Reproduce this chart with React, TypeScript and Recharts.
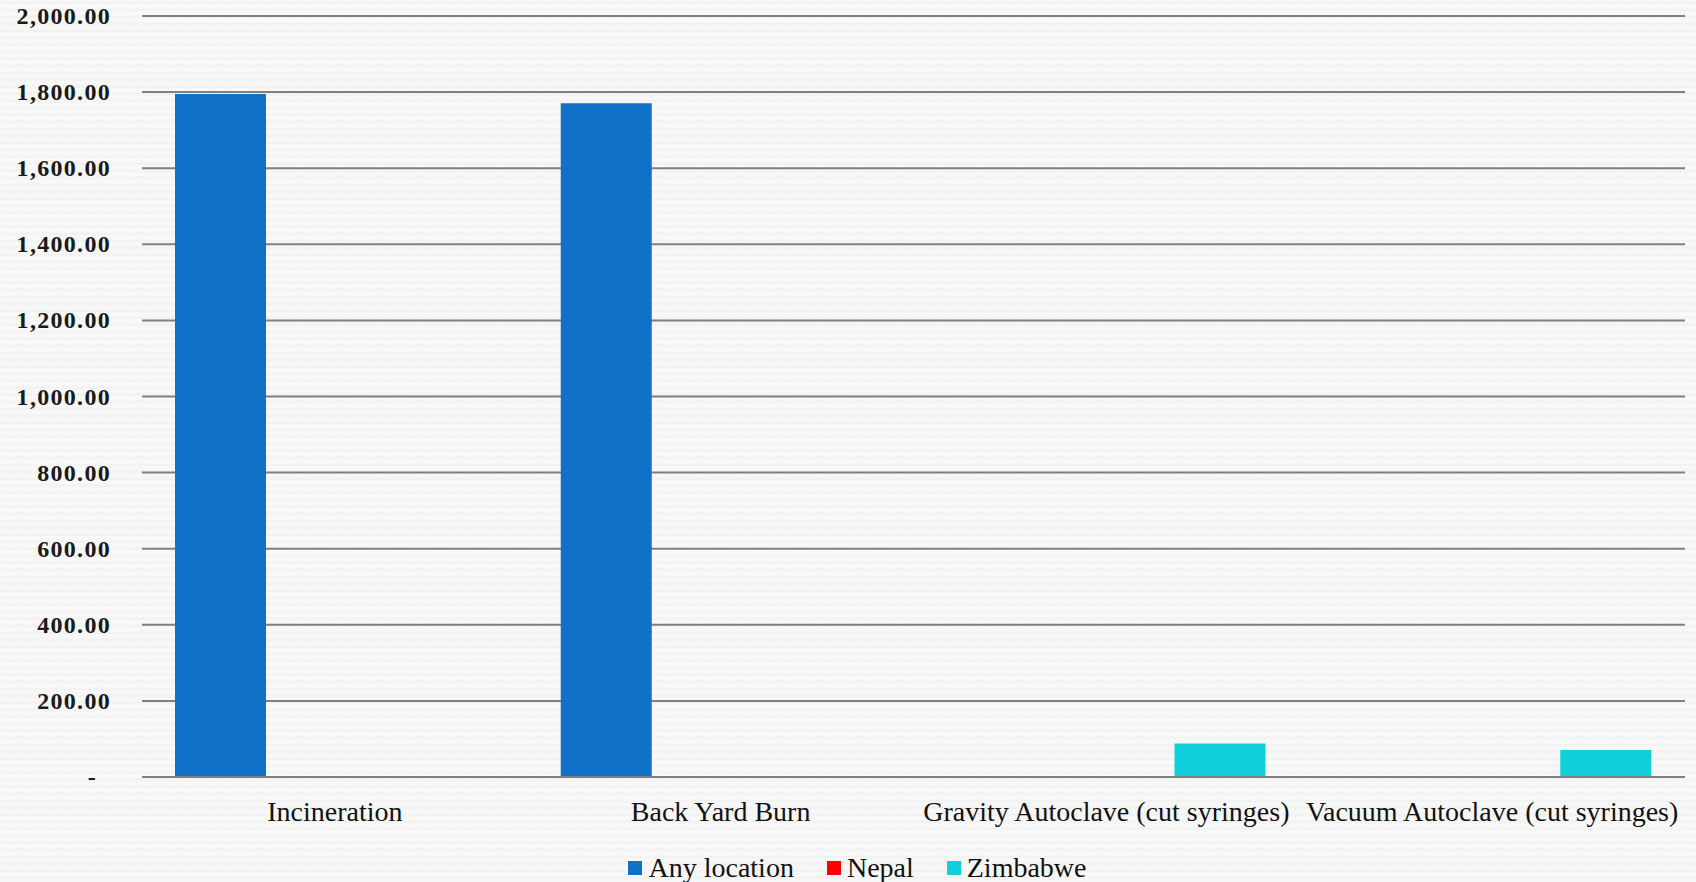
import React from "react";
import { BarChart, Bar, XAxis, YAxis, CartesianGrid, Legend } from "recharts";

const categories = [
  "Incineration",
  "Back Yard Burn",
  "Gravity Autoclave (cut syringes)",
  "Vacuum Autoclave (cut syringes)",
];
const anyLocation = [1795, 1771, 0, 0];
const nepal = [0, 0, 0, 0];
const zimbabwe = [0, 0, 88, 71];
const yTicks = [0, 200, 400, 600, 800, 1000, 1200, 1400, 1600, 1800, 2000];

const seriesNames = ["Any location", "Nepal", "Zimbabwe"];
const seriesColors = ["#1170C8", "#FF0000", "#10CFD9"];

const data = categories.map((c, i) => ({
  name: c,
  s0: anyLocation[i],
  s1: nepal[i],
  s2: zimbabwe[i],
}));

const FONT = '"Liberation Serif", "Times New Roman", serif';

const bgSvg =
  "data:image/svg+xml;utf8," +
  encodeURIComponent(
    '<svg xmlns="http://www.w3.org/2000/svg" width="10" height="7"><rect width="10" height="7" fill="#f8f8f8"/><path d="M0 4 L2.5 1.5 L5 4 L7.5 1.5 L10 4" fill="none" stroke="#f0f0f0" stroke-width="1.2"/></svg>'
  );

const fmt = (v: number) =>
  v === 0
    ? "-"
    : v.toLocaleString("en-US", { minimumFractionDigits: 2, maximumFractionDigits: 2 });

const YTick = (props: any) => {
  const { x, y, payload } = props;
  const v = payload.value as number;
  return (
    <text
      x={v === 0 ? x - 14 : x}
      y={y}
      textAnchor="end"
      dominantBaseline="central"
      fontFamily={FONT}
      fontSize={24}
      fontWeight="bold"
      letterSpacing={1.3}
      fill="#1a1a1a"
    >
      {fmt(v)}
    </text>
  );
};

const renderLegend = (props: any) => {
  const { payload } = props;
  return (
    <div
      style={{
        display: "flex",
        justifyContent: "center",
        alignItems: "center",
        height: 28,
        paddingLeft: 30,
        fontFamily: FONT,
        fontSize: 28,
        color: "#111",
      }}
    >
      {(payload || []).map((p: any, i: number) => (
        <div
          key={i}
          style={{ display: "flex", alignItems: "center", marginRight: i < payload.length - 1 ? 33 : 0 }}
        >
          <span
            style={{ width: 14, height: 14, background: p.color, display: "inline-block", marginRight: 6 }}
          />
          <span>{p.value}</span>
        </div>
      ))}
    </div>
  );
};

export default function App() {
  return (
    <div
      style={{
        position: "absolute",
        left: 0,
        top: 0,
        width: 1696,
        height: 882,
        backgroundColor: "#f8f8f8",
        backgroundImage: `url("${bgSvg}")`,
      }}
    >
      <BarChart
        width={1696}
        height={882}
        data={data}
        margin={{ top: 16, right: 11, left: 0, bottom: 0 }}
        barSize={91}
        barGap={23}
      >
        <CartesianGrid vertical={false} stroke="#808080" strokeWidth={2} />
        <XAxis
          dataKey="name"
          height={77}
          tickLine={false}
          tickSize={0}
          tickMargin={24}
          axisLine={{ stroke: "#808080", strokeWidth: 2 }}
          tick={{ fontFamily: FONT, fontSize: 28, fill: "#111" }}
          interval={0}
        />
        <YAxis
          width={142}
          domain={[0, 2000]}
          ticks={yTicks}
          axisLine={false}
          tickLine={false}
          tickSize={0}
          tickMargin={31}
          tick={<YTick />}
        />
        <Legend verticalAlign="bottom" content={renderLegend} wrapperStyle={{ height: 28 }} />
        <Bar dataKey="s0" name={seriesNames[0]} fill={seriesColors[0]} isAnimationActive={false} />
        <Bar dataKey="s1" name={seriesNames[1]} fill={seriesColors[1]} isAnimationActive={false} />
        <Bar dataKey="s2" name={seriesNames[2]} fill={seriesColors[2]} isAnimationActive={false} />
      </BarChart>
    </div>
  );
}
